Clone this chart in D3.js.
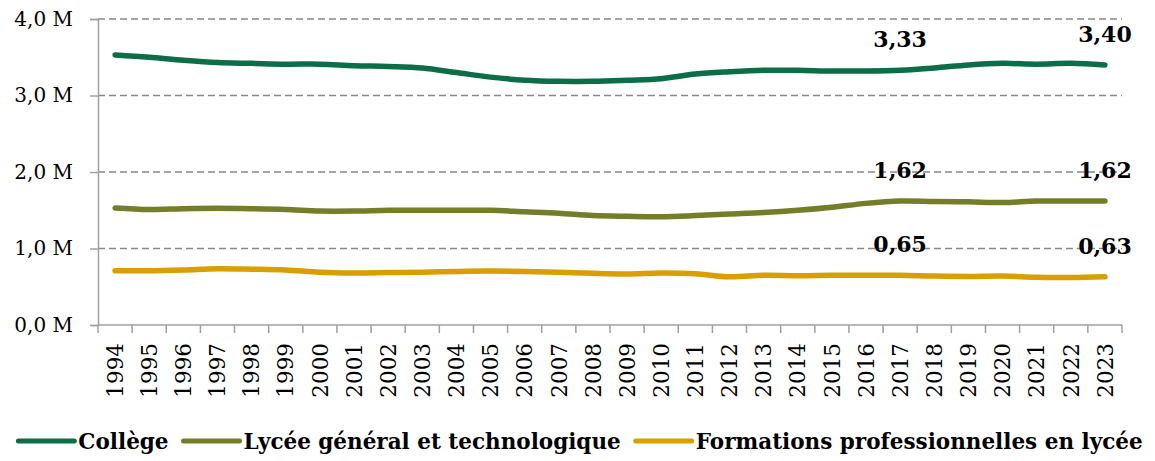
<!DOCTYPE html>
<html>
<head>
<meta charset="utf-8">
<script src="https://cdn.jsdelivr.net/npm/d3@7"></script>
<style>
  body { margin: 0; background: #fff; }
  text { font-family: "DejaVu Serif", serif; fill: #000; }
</style>
</head>
<body>
<svg id="chart"></svg>
<script>
const years = d3.range(1994, 2024).map(String)
const college = [3.53, 3.50, 3.46, 3.43, 3.42, 3.41, 3.41, 3.39, 3.38, 3.36,
    3.30, 3.24, 3.20, 3.185, 3.185, 3.20, 3.22, 3.28, 3.31, 3.33,
    3.33, 3.32, 3.32, 3.33, 3.36, 3.40, 3.42, 3.41, 3.42, 3.40]
const lyceeGT = [1.53, 1.51, 1.52, 1.525, 1.52, 1.51, 1.49, 1.49, 1.50, 1.50,
    1.50, 1.50, 1.48, 1.46, 1.43, 1.42, 1.415, 1.43, 1.45, 1.47,
    1.50, 1.54, 1.59, 1.62, 1.615, 1.61, 1.60, 1.62, 1.62, 1.62]
const formPro = [0.71, 0.71, 0.72, 0.735, 0.73, 0.72, 0.69, 0.68, 0.685, 0.69,
    0.70, 0.705, 0.70, 0.69, 0.675, 0.667, 0.68, 0.67, 0.63, 0.65,
    0.645, 0.65, 0.65, 0.65, 0.64, 0.635, 0.64, 0.625, 0.62, 0.63]
const seriesNames = ["Collège", "Lycée général et technologique", "Formations professionnelles en lycée"]
const yTicks = [0, 1, 2, 3, 4]
const labelYears = ["2017", "2023"]

const width = 1155, height = 461
const margin = {top: 19, right: 33, bottom: 136, left: 98}

const svg = d3.select("svg#chart")
    .attr("width", width)
    .attr("height", height)
    .attr("viewBox", [0, 0, width, height])

const x = d3.scaleBand()
    .domain(years)
    .range([margin.left, width - margin.right])

const y = d3.scaleLinear()
    .domain([0, 4])
    .range([height - margin.bottom, margin.top])

const colors = ["#0b6e47", "#757d28", "#d99e00"]
const allSeries = [college, lyceeGT, formPro]

// grid
svg.append("g")
    .selectAll("line")
    .data(yTicks.filter(d => d > 0))
    .join("line")
    .attr("x1", margin.left)
    .attr("x2", width - margin.right)
    .attr("y1", d => y(d))
    .attr("y2", d => y(d))
    .attr("stroke", "#888")
    .attr("stroke-width", 1.6)
    .attr("stroke-dasharray", "7,4")

// y axis
const yAxis = svg.append("g")
    .attr("transform", `translate(${margin.left},0)`)
    .call(d3.axisLeft(y).tickValues(yTicks).tickSize(8).tickPadding(17)
        .tickFormat(d => d3.format(".1f")(d).replace(".", ",") + " M"))
yAxis.select(".domain").attr("stroke", "#a0a0a0").attr("stroke-width", 1.5)
yAxis.selectAll(".tick line").attr("stroke", "#a0a0a0").attr("stroke-width", 1.5)
yAxis.selectAll(".tick text")
    .attr("font-size", 20)
    .attr("font-family", "DejaVu Serif")
    .attr("fill", "#000")

// x axis
const xAxisG = svg.append("g")
    .attr("transform", `translate(0,${y(0)})`)
xAxisG.append("line")
    .attr("x1", margin.left).attr("x2", width - margin.right)
    .attr("stroke", "#a0a0a0").attr("stroke-width", 1.5)
xAxisG.selectAll("line.tick")
    .data(years.concat(["end"]))
    .join("line").attr("class", "tick")
    .attr("x1", (d, i) => margin.left + i * x.bandwidth())
    .attr("x2", (d, i) => margin.left + i * x.bandwidth())
    .attr("y1", 0).attr("y2", 8)
    .attr("stroke", "#a0a0a0").attr("stroke-width", 1.5)
xAxisG.selectAll("text")
    .data(years)
    .join("text")
    .attr("transform", d => `translate(${x(d) + x.bandwidth() / 2},18) rotate(-90)`)
    .attr("text-anchor", "end")
    .attr("dy", "0.36em")
    .attr("font-size", 21.5)
    .text(d => d)

// lines
const line = d3.line()
    .x((d, i) => x(years[i]) + x.bandwidth() / 2)
    .y(d => y(d))
    .curve(d3.curveCatmullRom.alpha(0.5))

svg.append("g")
    .selectAll("path")
    .data(allSeries)
    .join("path")
    .attr("d", line)
    .attr("fill", "none")
    .attr("stroke", (d, i) => colors[i])
    .attr("stroke-width", 5.5)
    .attr("stroke-linecap", "round")
    .attr("stroke-linejoin", "round")

// value labels
const labelData = []
allSeries.forEach((s, si) => {
    labelYears.forEach(yr => {
        labelData.push({year: yr, value: s[years.indexOf(yr)], si})
    })
})
svg.append("g")
    .selectAll("text")
    .data(labelData)
    .join("text")
    .attr("x", d => x(d.year) + x.bandwidth() / 2)
    .attr("y", d => y(d.value) - 23)
    .attr("text-anchor", "middle")
    .attr("font-size", 22)
    .attr("font-weight", "bold")
    .text(d => d3.format(".2f")(d.value).replace(".", ","))

// legend
const legend = svg.append("g")
const items = legend.selectAll("g")
    .data(seriesNames)
    .join("g")
items.append("line")
    .attr("x1", 0).attr("x2", 56)
    .attr("y1", 0).attr("y2", 0)
    .attr("stroke", (d, i) => colors[i])
    .attr("stroke-width", 5)
    .attr("stroke-linecap", "round")
items.append("text")
    .attr("x", 60)
    .attr("y", 7.5)
    .attr("font-size", 21.5)
    .attr("font-weight", "bold")
    .text(d => d)

let cx = 0
items.each(function () {
    const g = d3.select(this)
    const w = 60 + g.select("text").node().getComputedTextLength()
    g.attr("transform", `translate(${cx},0)`)
    cx += w + 15
})
const totalW = cx - 15
legend.attr("transform", `translate(${(16 + 1145) / 2 - totalW / 2},441)`)
</script>
</body>
</html>
